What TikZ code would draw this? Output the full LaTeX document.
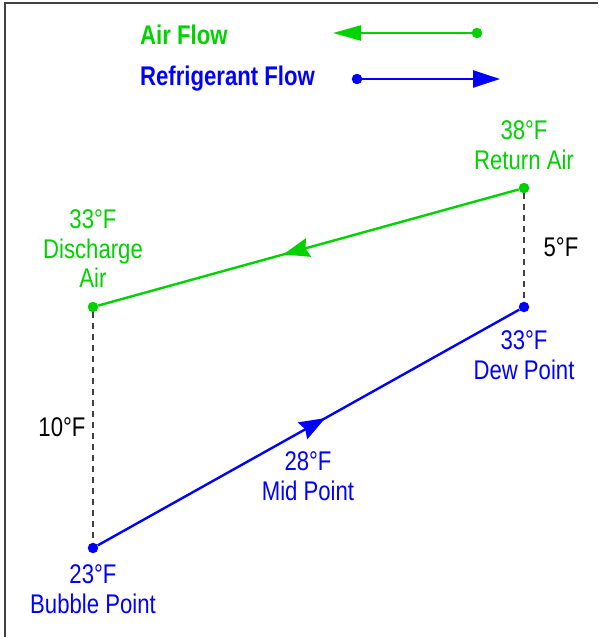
\documentclass[tikz,border=0pt]{standalone}
\usepackage{fontspec}
\setmainfont{Liberation Sans}[FakeStretch=0.82]
\usetikzlibrary{arrows.meta,decorations.markings}

\definecolor{airgreen}{RGB}{0,210,0}
\definecolor{refblue}{RGB}{0,0,255}

\tikzset{
  dot/.style={circle, fill, inner sep=0pt, minimum size=10.5pt},
  lbl/.style={align=center, inner sep=0pt, font=\fontsize{27}{29.5}\selectfont},
  flow/.style={line width=2.4pt},
  gap/.style={line width=1.1pt, black!75, dash pattern=on 6pt off 5pt},
  midarrow/.style={postaction={decorate}, decoration={markings,
      mark=at position #1 with {\arrow{Stealth[length=26pt,width=19pt,inset=3pt]}}}}
}

\begin{document}
\begin{tikzpicture}[x=1pt, y=-1pt]
    \useasboundingbox (0,0) rectangle (598,637);

    % frame
    \draw[line width=1.6pt, black!75] (5,637) -- (5,3) -- (598,3);

    % legend
    \node[lbl, anchor=west, airgreen, font=\fontsize{27}{29.5}\selectfont\bfseries] (airtxt) at (140,35) {Air Flow};
    \node[lbl, anchor=west, refblue, font=\fontsize{27}{29.5}\selectfont\bfseries] (reftxt) at (140,79) {Refrigerant Flow};

    \node[dot, airgreen] (airtail) at (477,33) {};
    \coordinate (airtip) at (333,33);
    \draw[flow, airgreen, -{Triangle[length=28pt,width=15pt]}] (airtail) -- (airtip);

    \node[dot, refblue] (reftail) at (357,79) {};
    \coordinate (reftip) at (500,79);
    \draw[flow, refblue, -{Triangle[length=27pt,width=17pt]}] (reftail) -- (reftip);

    % state points
    \node[dot, airgreen] (ret) at (524,188) {};
    \node[dot, airgreen] (dis) at (93,307) {};
    \node[dot, refblue] (dew) at (524,307) {};
    \node[dot, refblue] (bub) at (93,548) {};

    \node[lbl, airgreen] (retlbl) at (524,145) {38°F\\Return Air};
    \node[lbl, airgreen] (dislbl) at (93,249) {33°F\\Discharge\\Air};
    \node[lbl, refblue] (dewlbl) at (524,355) {33°F\\Dew Point};
    \node[lbl, refblue] (midlbl) at (308,476) {28°F\\Mid Point};
    \node[lbl, refblue] (bublbl) at (93,589) {23°F\\Bubble Point};

    % temperature differences
    \draw[gap] (ret) -- (dew);
    \draw[gap] (dis) -- (bub);
    \node[lbl] (dtair) at (561,247) {5°F};
    \node[lbl] (dtref) at (62,427) {10°F};

    % flows
    \draw[flow, airgreen, midarrow=0.56] (ret) -- (dis);
    \draw[flow, refblue, midarrow=0.54] (bub) -- (dew);
\end{tikzpicture}
\end{document}
